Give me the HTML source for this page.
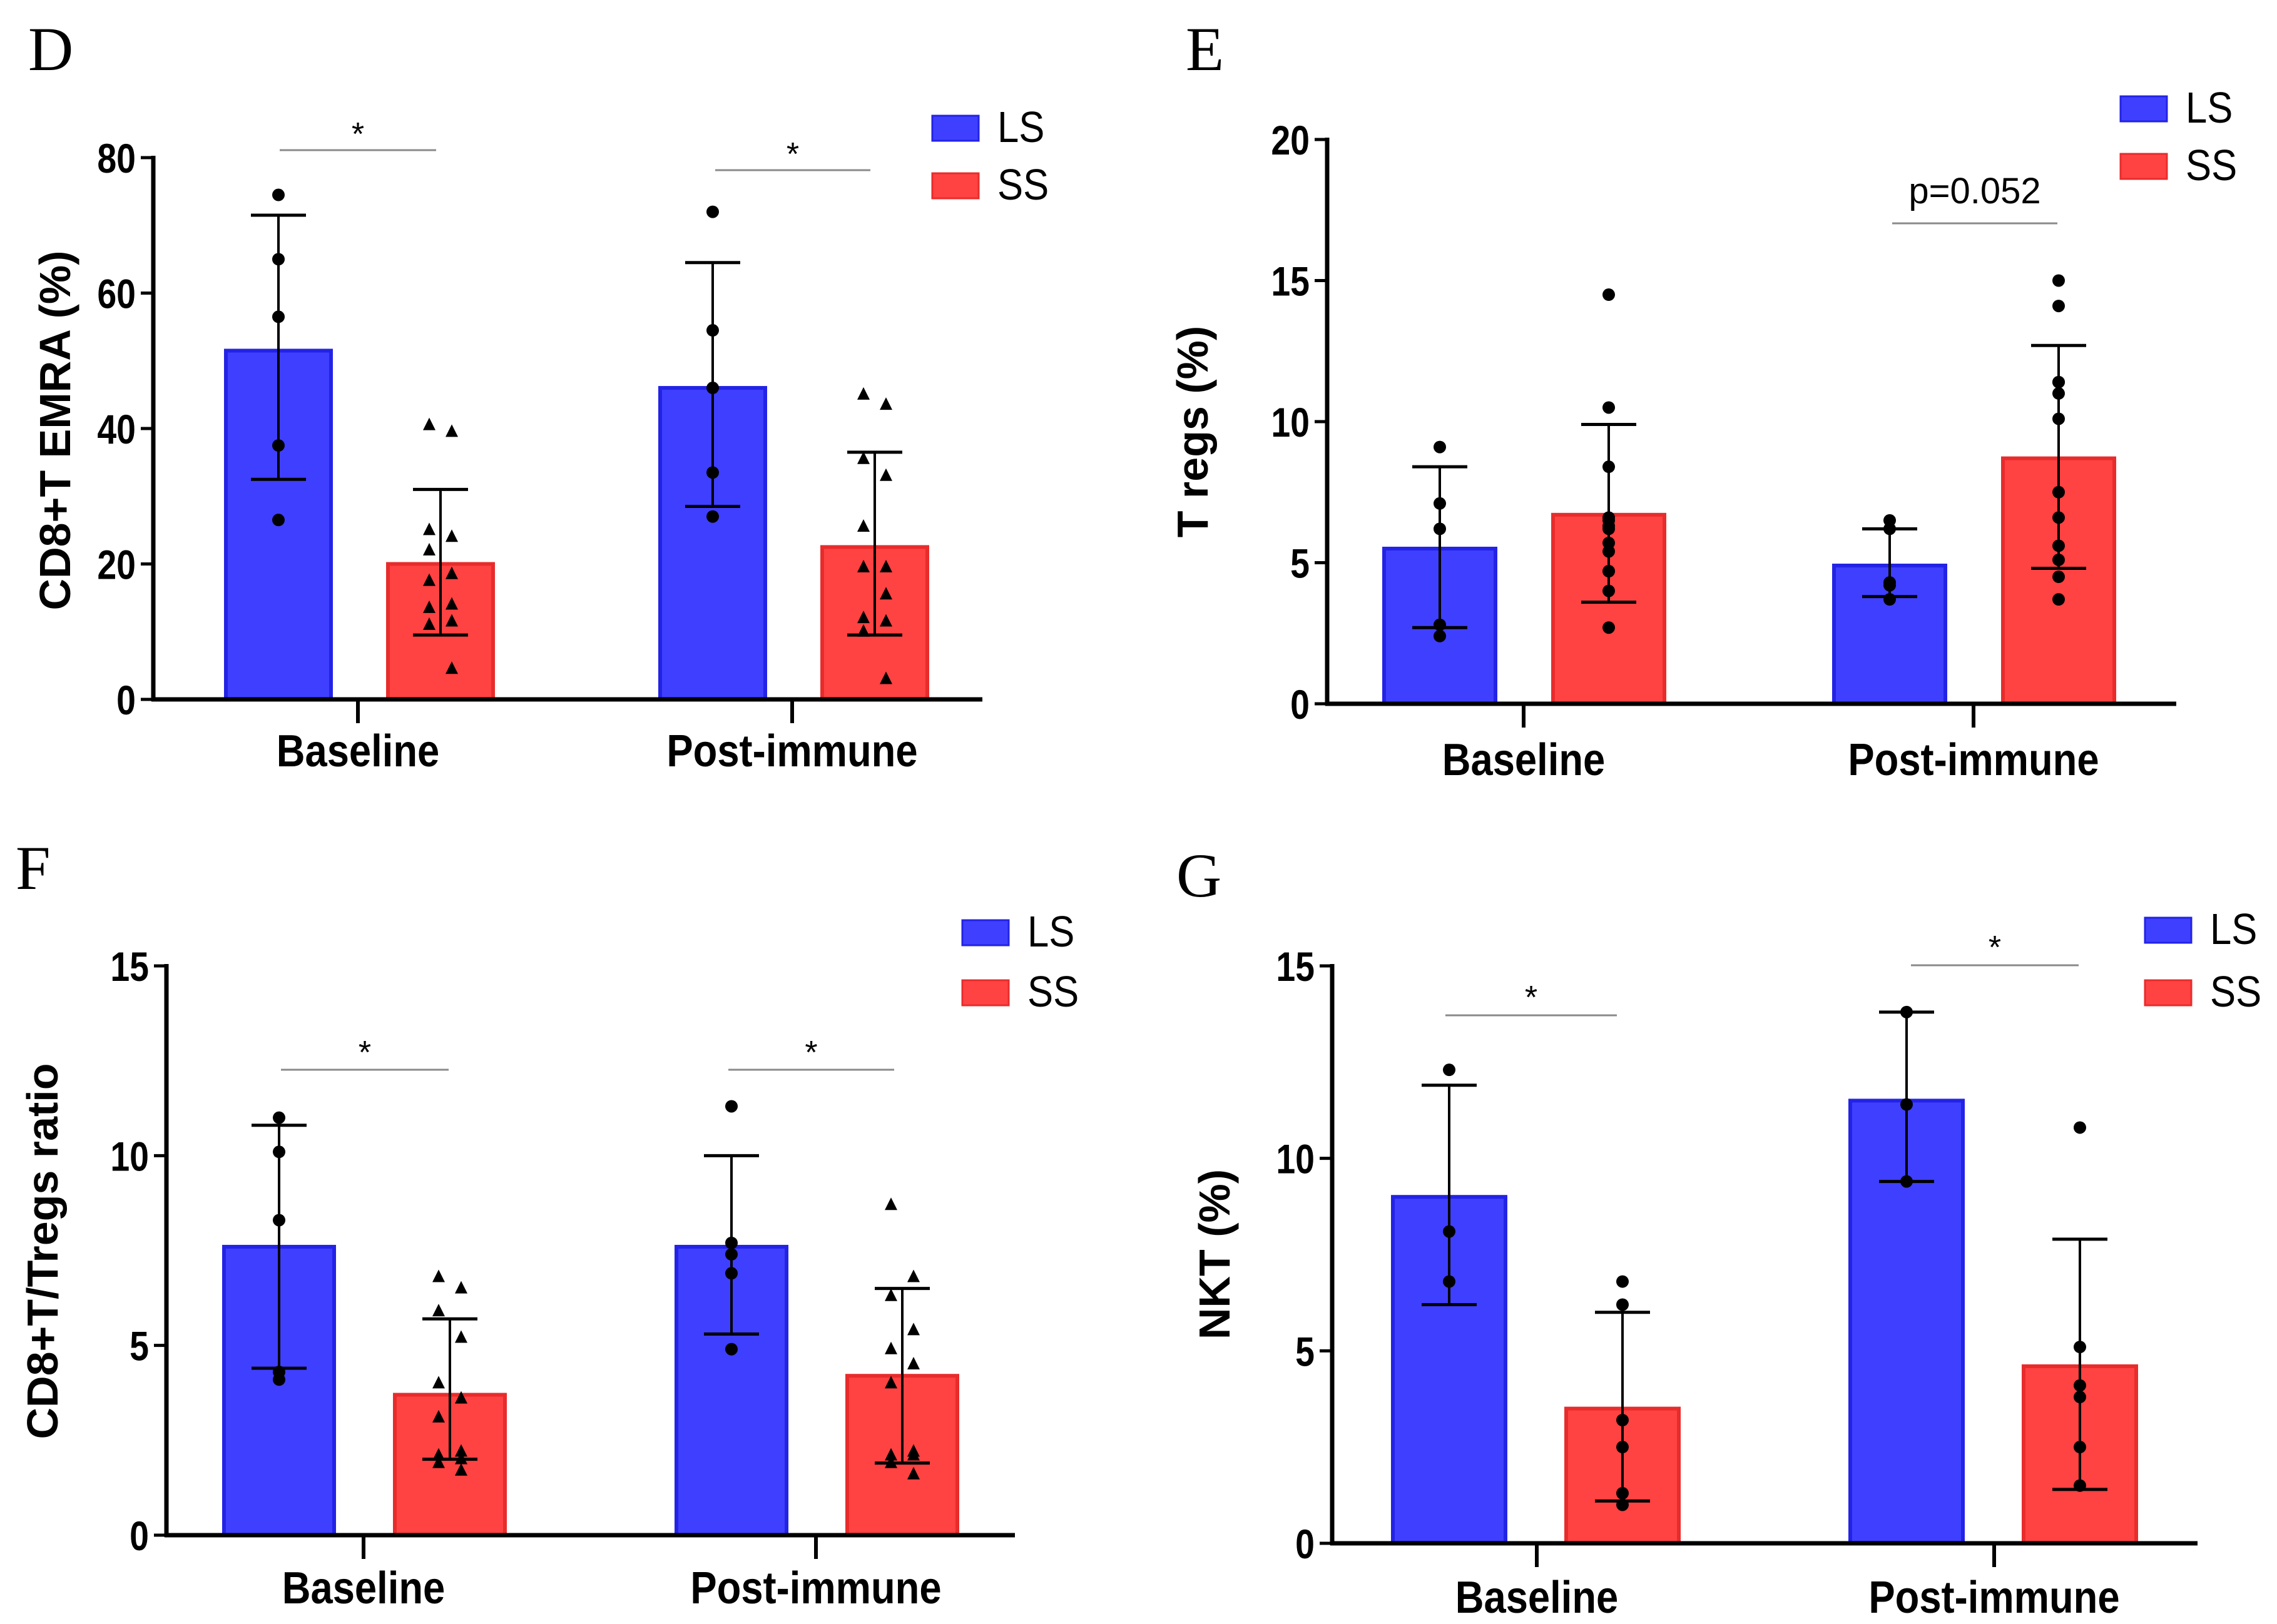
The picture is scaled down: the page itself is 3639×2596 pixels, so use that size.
<!DOCTYPE html>
<html><head><meta charset="utf-8"><style>
html,body{margin:0;padding:0;background:#fff;}
svg{display:block;}
</style></head><body>
<svg id="fig" xmlns="http://www.w3.org/2000/svg" width="3639" height="2596" viewBox="0 0 3639 2596"></svg>
<script>
// ---------- DATA (groups: LS-baseline, SS-baseline, LS-post, SS-post) ----------
const categories = ["Baseline", "Post-immune"];
const seriesNames = ["LS", "SS"];

const dTicks = [0, 20, 40, 60, 80];
const dMeans = [51.5, 20, 46, 22.5];
const dErrLow = [32.5, 9.5, 28.5, 9.5];
const dErrHigh = [71.5, 31, 64.5, 36.5];
const dPoints = [
  [74.5, 65, 56.5, 37.5, 26.5],
  [40.5, 39.5, 25, 24, 22, 18.5, 17.5, 14, 13.5, 11.5, 11, 4.5],
  [72, 54.5, 46, 33.5, 27],
  [45, 43.5, 35.5, 33, 25.5, 19.5, 19.5, 15.5, 12, 11.5, 10, 3]
];

const eTicks = [0, 5, 10, 15, 20];
const eMeans = [5.5, 6.7, 4.9, 8.7];
const eErrLow = [2.7, 3.6, 3.8, 4.8];
const eErrHigh = [8.4, 9.9, 6.2, 12.7];
const ePoints = [
  [9.1, 7.1, 6.2, 2.8, 2.4],
  [14.5, 10.5, 8.4, 6.6, 6.5, 6.3, 6.2, 5.7, 5.4, 4.7, 4.7, 4.0, 2.7],
  [6.5, 6.2, 4.3, 4.2, 3.7],
  [15, 14.1, 11.4, 11.4, 11, 10.1, 7.5, 6.6, 5.6, 5.1, 4.5, 3.7]
];

const fTicks = [0, 5, 10, 15];
const fMeans = [7.6, 3.7, 7.6, 4.2];
const fErrLow = [4.4, 2.0, 5.3, 1.9];
const fErrHigh = [10.8, 5.7, 10.0, 6.5];
const fPoints = [
  [11, 10.1, 8.3, 4.3, 4.1],
  [6.8, 6.5, 5.9, 5.2, 4, 3.6, 3.1, 2.2, 2.1, 2.0, 1.9, 1.7],
  [11.3, 7.7, 7.4, 6.9, 4.9],
  [8.7, 6.8, 6.3, 5.4, 4.9, 4.5, 4.0, 2.2, 2.1, 2.1, 1.9, 1.6]
];

const gTicks = [0, 5, 10, 15];
const gMeans = [9.0, 3.5, 11.5, 4.6];
const gErrLow = [6.2, 1.1, 9.4, 1.4];
const gErrHigh = [11.9, 6.0, 13.8, 7.9];
const gPoints = [
  [12.3, 8.1, 6.8],
  [6.8, 6.2, 3.2, 2.5, 1.3, 1.0],
  [13.8, 11.4, 9.4],
  [10.8, 5.1, 4.1, 3.8, 2.5, 1.5]
];

// ---------- RENDER ----------
const NS = "http://www.w3.org/2000/svg";
const svg = document.getElementById("fig");
function mk(tag, attrs, parent) {
  const e = document.createElementNS(NS, tag);
  for (const k in attrs) e.setAttribute(k, attrs[k]);
  (parent || svg).appendChild(e);
  return e;
}
const FILL = ["#3f3fff", "#ff4242"];
const EDGE = ["#2323e6", "#e82c2c"];

function panel(L, ticks, means, lo, hi, pts, tri) {
  const g = mk("g", {});
  
  
  const ymax = ticks[ticks.length - 1];
  const y = v => L.y0 - (v / ymax) * (L.y0 - L.yTop);

  const letter = mk("text", {x: L.lx, y: L.ly, "font-family": "Liberation Serif, serif", "font-size": 100, fill: "#000"}, g);
  letter.textContent = L.letter;
  
  

  const centers = [L.cx[0] + L.off[0], L.cx[0] + L.off[1], L.cx[1] + L.off[0], L.cx[1] + L.off[1]];
  for (let i = 0; i < 4; i++) {
    const s = i % 2;
    const b = mk("rect", {x: centers[i] - L.bw / 2, y: y(means[i]), width: L.bw, height: L.y0 - y(means[i]), fill: FILL[s], stroke: EDGE[s], "stroke-width": 6}, g);
    
    
  }
  for (let i = 0; i < 4; i++) {
    const c = centers[i];
    const eg = mk("g", {stroke: "#000", "stroke-width": 4}, g);
    
    
    mk("line", {x1: c, x2: c, y1: y(lo[i]), y2: y(hi[i])}, eg);
    mk("line", {x1: c - 44, x2: c + 44, y1: y(hi[i]), y2: y(hi[i]), "stroke-width": 5}, eg);
    mk("line", {x1: c - 44, x2: c + 44, y1: y(lo[i]), y2: y(lo[i]), "stroke-width": 5}, eg);
    const p = pts[i];
    for (let j = 0; j < p.length; j++) {
      let dx = 0;
      if (i % 2 === 1) dx = (j % 2 === 0 ? -18 : 18);
      const px = c + dx, py = y(p[j]);
      let m;
      if (tri && i % 2 === 1) {
        m = mk("polygon", {points: `${px},${py - 12} ${px - 10},${py + 8} ${px + 10},${py + 8}`, fill: "#000"}, g);
      } else {
        m = mk("circle", {cx: c, cy: py, r: 10, fill: "#000"}, g);
      }
      
      
    }
  }
  const ax = mk("g", {stroke: "#000", "stroke-width": 7}, g);
  
  
  mk("line", {x1: L.x0, x2: L.x0, y1: L.yTop - 3, y2: L.y0 + 3}, ax);
  mk("line", {x1: L.x0 - 3, x2: L.xEnd, y1: L.y0, y2: L.y0}, ax);
  ticks.forEach(t => {
    mk("line", {x1: L.x0 - 20, x2: L.x0, y1: y(t), y2: y(t), "stroke-width": 5}, ax);
    const tl = mk("text", {x: 0, y: 0, transform: `translate(${L.x0 - 28},${y(t) + 24}) scale(0.84,1)`, "text-anchor": "end", "font-family": "Liberation Sans, sans-serif", "font-weight": "bold", "font-size": 66, fill: "#000", stroke: "none"}, g);
    tl.textContent = t;
    
    
  });
  categories.forEach((cat, k) => {
    mk("line", {x1: L.cx[k], x2: L.cx[k], y1: L.y0, y2: L.y0 + 38, "stroke-width": 6}, ax);
    const xl = mk("text", {x: 0, y: 0, transform: `translate(${L.cx[k]},${L.xly}) scale(0.88,1)`, "text-anchor": "middle", "font-family": "Liberation Sans, sans-serif", "font-weight": "bold", "font-size": 72, fill: "#000"}, g);
    xl.textContent = cat;
    
    
  });
  const yt = mk("text", {x: 0, y: 0, transform: `translate(${L.ytx},${L.yty}) rotate(-90)`, "text-anchor": "middle", "font-family": "Liberation Sans, sans-serif", "font-weight": "bold", "font-size": 70, fill: "#000"}, g);
  yt.textContent = L.ytitle;
  
  
  seriesNames.forEach((n, s) => {
    const sy = L.legY[s];
    const sw = mk("rect", {x: L.legX, y: sy, width: 74, height: 40, fill: FILL[s], stroke: EDGE[s], "stroke-width": 3}, g);
    
    
    const lt = mk("text", {x: 0, y: 0, transform: `translate(${L.legX + 104},${sy + 42}) scale(0.88,1)`, "font-family": "Liberation Sans, sans-serif", "font-size": 70, fill: "#000"}, g);
    lt.textContent = n;
    
    
  });
  L.sig.forEach(sg => {
    const sl = mk("line", {x1: sg.x1, x2: sg.x2, y1: sg.y, y2: sg.y, stroke: "#8a8a8a", "stroke-width": 3}, g);
    
    
    const st = mk("text", {x: (sg.x1 + sg.x2) / 2, y: sg.ty, "text-anchor": "middle", "font-family": "Liberation Sans, sans-serif", "font-size": sg.fs, fill: "#000"}, g);
    st.textContent = sg.label;
    
    
  });
}

panel({letter: "D", lx: 45, ly: 112, x0: 245, xEnd: 1570, y0: 1118, yTop: 252, cx: [572, 1266], off: [-127, 132], bw: 168,
  xly: 1225, ytx: 112, yty: 688, ytitle: "CD8+T EMRA (%)", legX: 1490, legY: [185, 277],
  sig: [{x1: 447, x2: 697, y: 240, ty: 232, label: "*", fs: 52}, {x1: 1143, x2: 1391, y: 272, ty: 264, label: "*", fs: 52}]},
  dTicks, dMeans, dErrLow, dErrHigh, dPoints, true);

panel({letter: "E", lx: 1895, ly: 112, x0: 2121, xEnd: 3478, y0: 1125, yTop: 223, cx: [2435, 3154], off: [-134, 136], bw: 178,
  xly: 1239, ytx: 1930, yty: 690, ytitle: "T regs (%)", legX: 3389, legY: [154, 246],
  sig: [{x1: 3024, x2: 3288, y: 357, ty: 325, label: "p=0.052", fs: 58}]},
  eTicks, eMeans, eErrLow, eErrHigh, ePoints, false);

panel({letter: "F", lx: 25, ly: 1421, x0: 266, xEnd: 1622, y0: 2454, yTop: 1544, cx: [581, 1304], off: [-135, 138], bw: 176,
  xly: 2563, ytx: 92, yty: 2000, ytitle: "CD8+T/Tregs ratio", legX: 1538, legY: [1471, 1567],
  sig: [{x1: 449, x2: 717, y: 1710, ty: 1700, label: "*", fs: 52}, {x1: 1164, x2: 1429, y: 1710, ty: 1700, label: "*", fs: 52}]},
  fTicks, fMeans, fErrLow, fErrHigh, fPoints, true);

panel({letter: "G", lx: 1880, ly: 1433, x0: 2129, xEnd: 3512, y0: 2467, yTop: 1544, cx: [2456, 3187], off: [-140, 137], bw: 180,
  xly: 2578, ytx: 1965, yty: 2005, ytitle: "NKT (%)", legX: 3428, legY: [1467, 1567],
  sig: [{x1: 2310, x2: 2584, y: 1623, ty: 1612, label: "*", fs: 52}, {x1: 3054, x2: 3322, y: 1543, ty: 1532, label: "*", fs: 52}]},
  gTicks, gMeans, gErrLow, gErrHigh, gPoints, false);
</script>
</body></html>
